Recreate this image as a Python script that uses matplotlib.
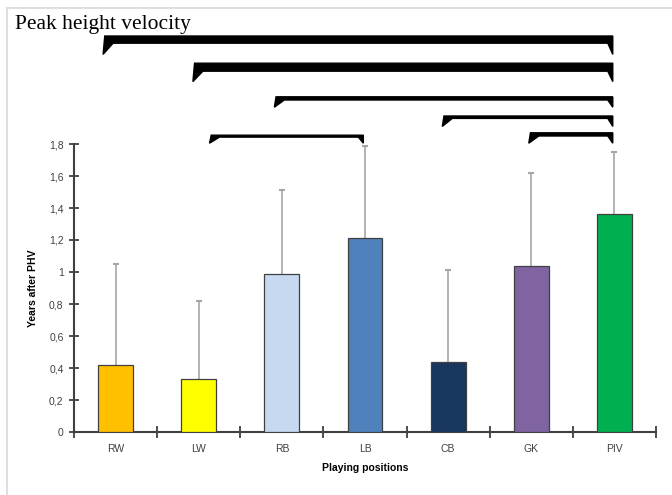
import matplotlib
matplotlib.use("Agg")
from matplotlib import pyplot as plt
from matplotlib.patches import Polygon
from matplotlib.lines import Line2D

positions = ["RW", "LW", "RB", "LB", "CB", "GK", "PIV"]
means = [0.42, 0.33, 0.99, 1.21, 0.44, 1.04, 1.36]
upper = [1.05, 0.82, 1.51, 1.79, 1.01, 1.62, 1.75]
colors = ["#FFC000", "#FFFF00", "#C6D9F1", "#4F81BD", "#17375E", "#8064A2", "#00B050"]

# significance brackets: (from, to, top, bar bottom, tip, left offset)
brackets = [
    (0, 6, 2.475, 2.43, 2.36, -0.13),
    (1, 6, 2.305, 2.255, 2.19, -0.05),
    (2, 6, 2.095, 2.075, 2.03, -0.07),
    (4, 6, 1.975, 1.96, 1.91, -0.05),
    (1, 3, 1.855, 1.843, 1.805, 0.15),
    (5, 6, 1.87, 1.85, 1.805, -0.01),
]

plt.rcParams['font.family'] = ['Liberation Sans', 'DejaVu Sans']

fig = plt.figure(figsize=(6.72, 4.95), dpi=100)
ax = fig.add_axes([74 / 672, 1 - 432 / 495, 582 / 672, 288 / 495])

x = list(range(len(positions)))
ax.bar(x, means, width=0.42, color=colors, edgecolor="#404040", linewidth=0.9, zorder=3)
ax.vlines(x, means, upper, color="#A6A6A6", linewidth=1.2, zorder=2)
ax.plot(x, upper, linestyle="none", marker="_", markersize=5, color="#A6A6A6", mew=1.5)

ax.set_xlim(-0.5, 6.5)
ax.set_ylim(0, 1.8)
ax.set_yticks([0, 0.2, 0.4, 0.6, 0.8, 1, 1.2, 1.4, 1.6, 1.8])
ax.set_yticklabels(["0", "0,2", "0,4", "0,6", "0,8", "1", "1,2", "1,4", "1,6", "1,8"])
ax.set_xticks([i - 0.5 for i in range(len(positions) + 1)])
ax.set_xticklabels([])
ax.set_xticks(x, minor=True)
ax.set_xticklabels(positions, minor=True)
ax.tick_params(axis="x", which="minor", length=0, pad=9, labelsize=7.5, colors="#404040")
ax.tick_params(axis="x", which="major", direction="inout", length=9, width=1.3, color="#404040")
ax.tick_params(axis="y", direction="inout", length=7, width=1.3, color="#404040", labelsize=7.5, labelcolor="#404040", pad=4)

for s in ["top", "right"]:
    ax.spines[s].set_visible(False)
for s in ["left", "bottom"]:
    ax.spines[s].set_linewidth(1.5)
    ax.spines[s].set_color("#404040")

ax.set_ylabel("Years after PHV", fontsize=7.5, fontweight="bold", labelpad=8)
ax.set_xlabel("Playing positions", fontsize=7.5, fontweight="bold", labelpad=6)

for a, b, top, bot, tip, off in brackets:
    x0 = a + off
    x1 = b - 0.02
    pts = [(x0, top), (x1, top), (x1, tip), (x1 - 0.06, bot), (x0 + 0.1, bot), (x0 - 0.02, tip)]
    ax.add_patch(Polygon(pts, closed=True, color="black", clip_on=False, zorder=4))

fig.text(15 / 672, 1 - 25 / 495, "Peak height velocity", family="Liberation Serif",
         fontsize=15.5, va="center", ha="left")

fig.add_artist(Line2D([7 / 672, 1], [1 - 8 / 495, 1 - 8 / 495], color="#D9D9D9", linewidth=1.2))
fig.add_artist(Line2D([7 / 672, 7 / 672], [0, 1 - 8 / 495], color="#D9D9D9", linewidth=1.2))

fig.savefig("out.png", dpi=100)
